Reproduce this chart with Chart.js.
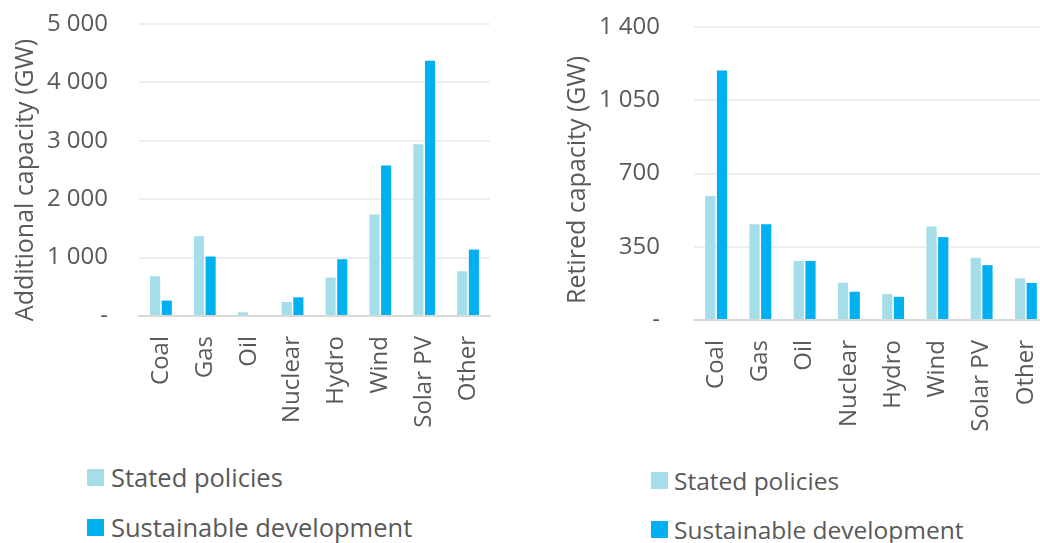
<!DOCTYPE html>
<html>
<head>
<meta charset="utf-8">
<script src="https://cdn.jsdelivr.net/npm/chart.js@4/dist/chart.umd.min.js"></script>
<style>
  body { margin: 0; width: 1040px; height: 543px; overflow: hidden; background: #fff;
         font-family: "Open Sans", sans-serif; color: #595959; position: relative; }
  .wrap { position: absolute; top: 0; height: 445px; }
  #wrapLeft { left: 0; width: 520px; }
  #wrapRight { left: 560px; width: 500px; }
  .item { position: absolute; display: flex; align-items: center; height: 30px;
          font-size: 25.5px; white-space: nowrap; }
  .item.small { font-size: 24.5px; }
  .sw { width: 17px; height: 17px; margin-right: 7px; }
</style>
</head>
<body>
<div class="wrap" id="wrapLeft"><canvas id="added"></canvas></div>
<div class="wrap" id="wrapRight"><canvas id="retired"></canvas></div>

<div class="item" style="left:87px; top:462px"><span class="sw" style="background:#A5DEE8"></span>Stated policies</div>
<div class="item" style="left:87px; top:512px"><span class="sw" style="background:#00B0F0"></span>Sustainable development</div>
<div class="item small" style="left:651px; top:465px"><span class="sw" style="background:#A5DEE8; margin-right:6px"></span>Stated policies</div>
<div class="item small" style="left:651px; top:514px"><span class="sw" style="background:#00B0F0; margin-right:6px"></span>Sustainable development</div>

<script>
const categories = ['Coal', 'Gas', 'Oil', 'Nuclear', 'Hydro', 'Wind', 'Solar PV', 'Other'];
const seriesNames = ['Stated policies', 'Sustainable development'];

// GW added
const addedStated = [680, 1366, 63, 240, 658, 1738, 2943, 766];
const addedSustainable = [264, 1018, 0, 320, 972, 2578, 4372, 1138];
const addedTicks = [0, 1000, 2000, 3000, 4000, 5000];

// GW retired
const retiredStated = [593, 457, 282, 178, 124, 447, 297, 199];
const retiredSustainable = [1192, 458, 282, 135, 111, 396, 262, 177];
const retiredTicks = [0, 350, 700, 1050, 1400];

const lightBlue = '#A5DEE8';
const blue = '#00B0F0';
const textColor = '#595959';
const font = { family: '"Open Sans", sans-serif', size: 24 };

function fmt(v) {
    if (v === 0) return '-';
    return String(v).replace(/\B(?=(\d{3})+(?!\d))/g, ' ');
}

// rotated y-axis title, placed by hand
const axisTitle = {
    id: 'axisTitle',
    afterDraw(chart, args, opts) {
        const c = chart.ctx;
        c.save();
        c.translate(opts.x, opts.y);
        c.rotate(-Math.PI / 2);
        c.font = '25px "Open Sans", sans-serif';
        c.fillStyle = textColor;
        c.textAlign = 'center';
        c.textBaseline = 'middle';
        c.fillText(opts.text, 0, 0);
        c.restore();
    }
};

function buildChart(id, stated, sustainable, ticks, cfg) {
    const ctx = document.getElementById(id).getContext('2d');
    return new Chart(ctx, {
        type: 'bar',
        data: {
            labels: categories,
            datasets: [
                { label: seriesNames[0], data: stated, backgroundColor: lightBlue,
                  categoryPercentage: 0.53, barPercentage: 0.87 },
                { label: seriesNames[1], data: sustainable, backgroundColor: blue,
                  categoryPercentage: 0.53, barPercentage: 0.87 }
            ]
        },
        plugins: [axisTitle],
        options: {
            responsive: true,
            maintainAspectRatio: false,
            animation: false,
            layout: { padding: cfg.padding },
            plugins: {
                legend: { display: false },
                tooltip: { enabled: false },
                axisTitle: { text: cfg.title, x: cfg.titleX, y: cfg.titleY }
            },
            scales: {
                x: {
                    grid: { display: false, drawTicks: false },
                    border: { color: '#D9D9D9', width: 2 },
                    ticks: { color: textColor, font: font, minRotation: 90, maxRotation: 90,
                             autoSkip: false, padding: cfg.xPad },
                    afterFit: s => { s.height = cfg.xHeight; s.paddingLeft = 0; s.paddingRight = 0; }
                },
                y: {
                    min: 0,
                    max: ticks[ticks.length - 1],
                    afterBuildTicks: s => { s.ticks = ticks.map(v => ({ value: v })); },
                    grid: { color: '#EEEEEE', lineWidth: 2, drawTicks: false },
                    border: { display: false },
                    ticks: { color: textColor, font: font, padding: cfg.yPad, callback: fmt },
                    afterFit: s => { s.width = cfg.yWidth; s.paddingTop = 0; s.paddingBottom = 0; }
                }
            }
        }
    });
}

buildChart('added', addedStated, addedSustainable, addedTicks, {
    title: 'Additional capacity (GW)', titleX: 26, titleY: 180,
    padding: { top: 24, right: 30, left: 0, bottom: 0 },
    yWidth: 139, yPad: 31,
    xHeight: 129, xPad: 20
});

buildChart('retired', retiredStated, retiredSustainable, retiredTicks, {
    title: 'Retired capacity (GW)', titleX: 18, titleY: 180,
    padding: { top: 27, right: 12, left: 0, bottom: 0 },
    yWidth: 134, yPad: 34,
    xHeight: 125, xPad: 20
});
</script>
</body>
</html>
